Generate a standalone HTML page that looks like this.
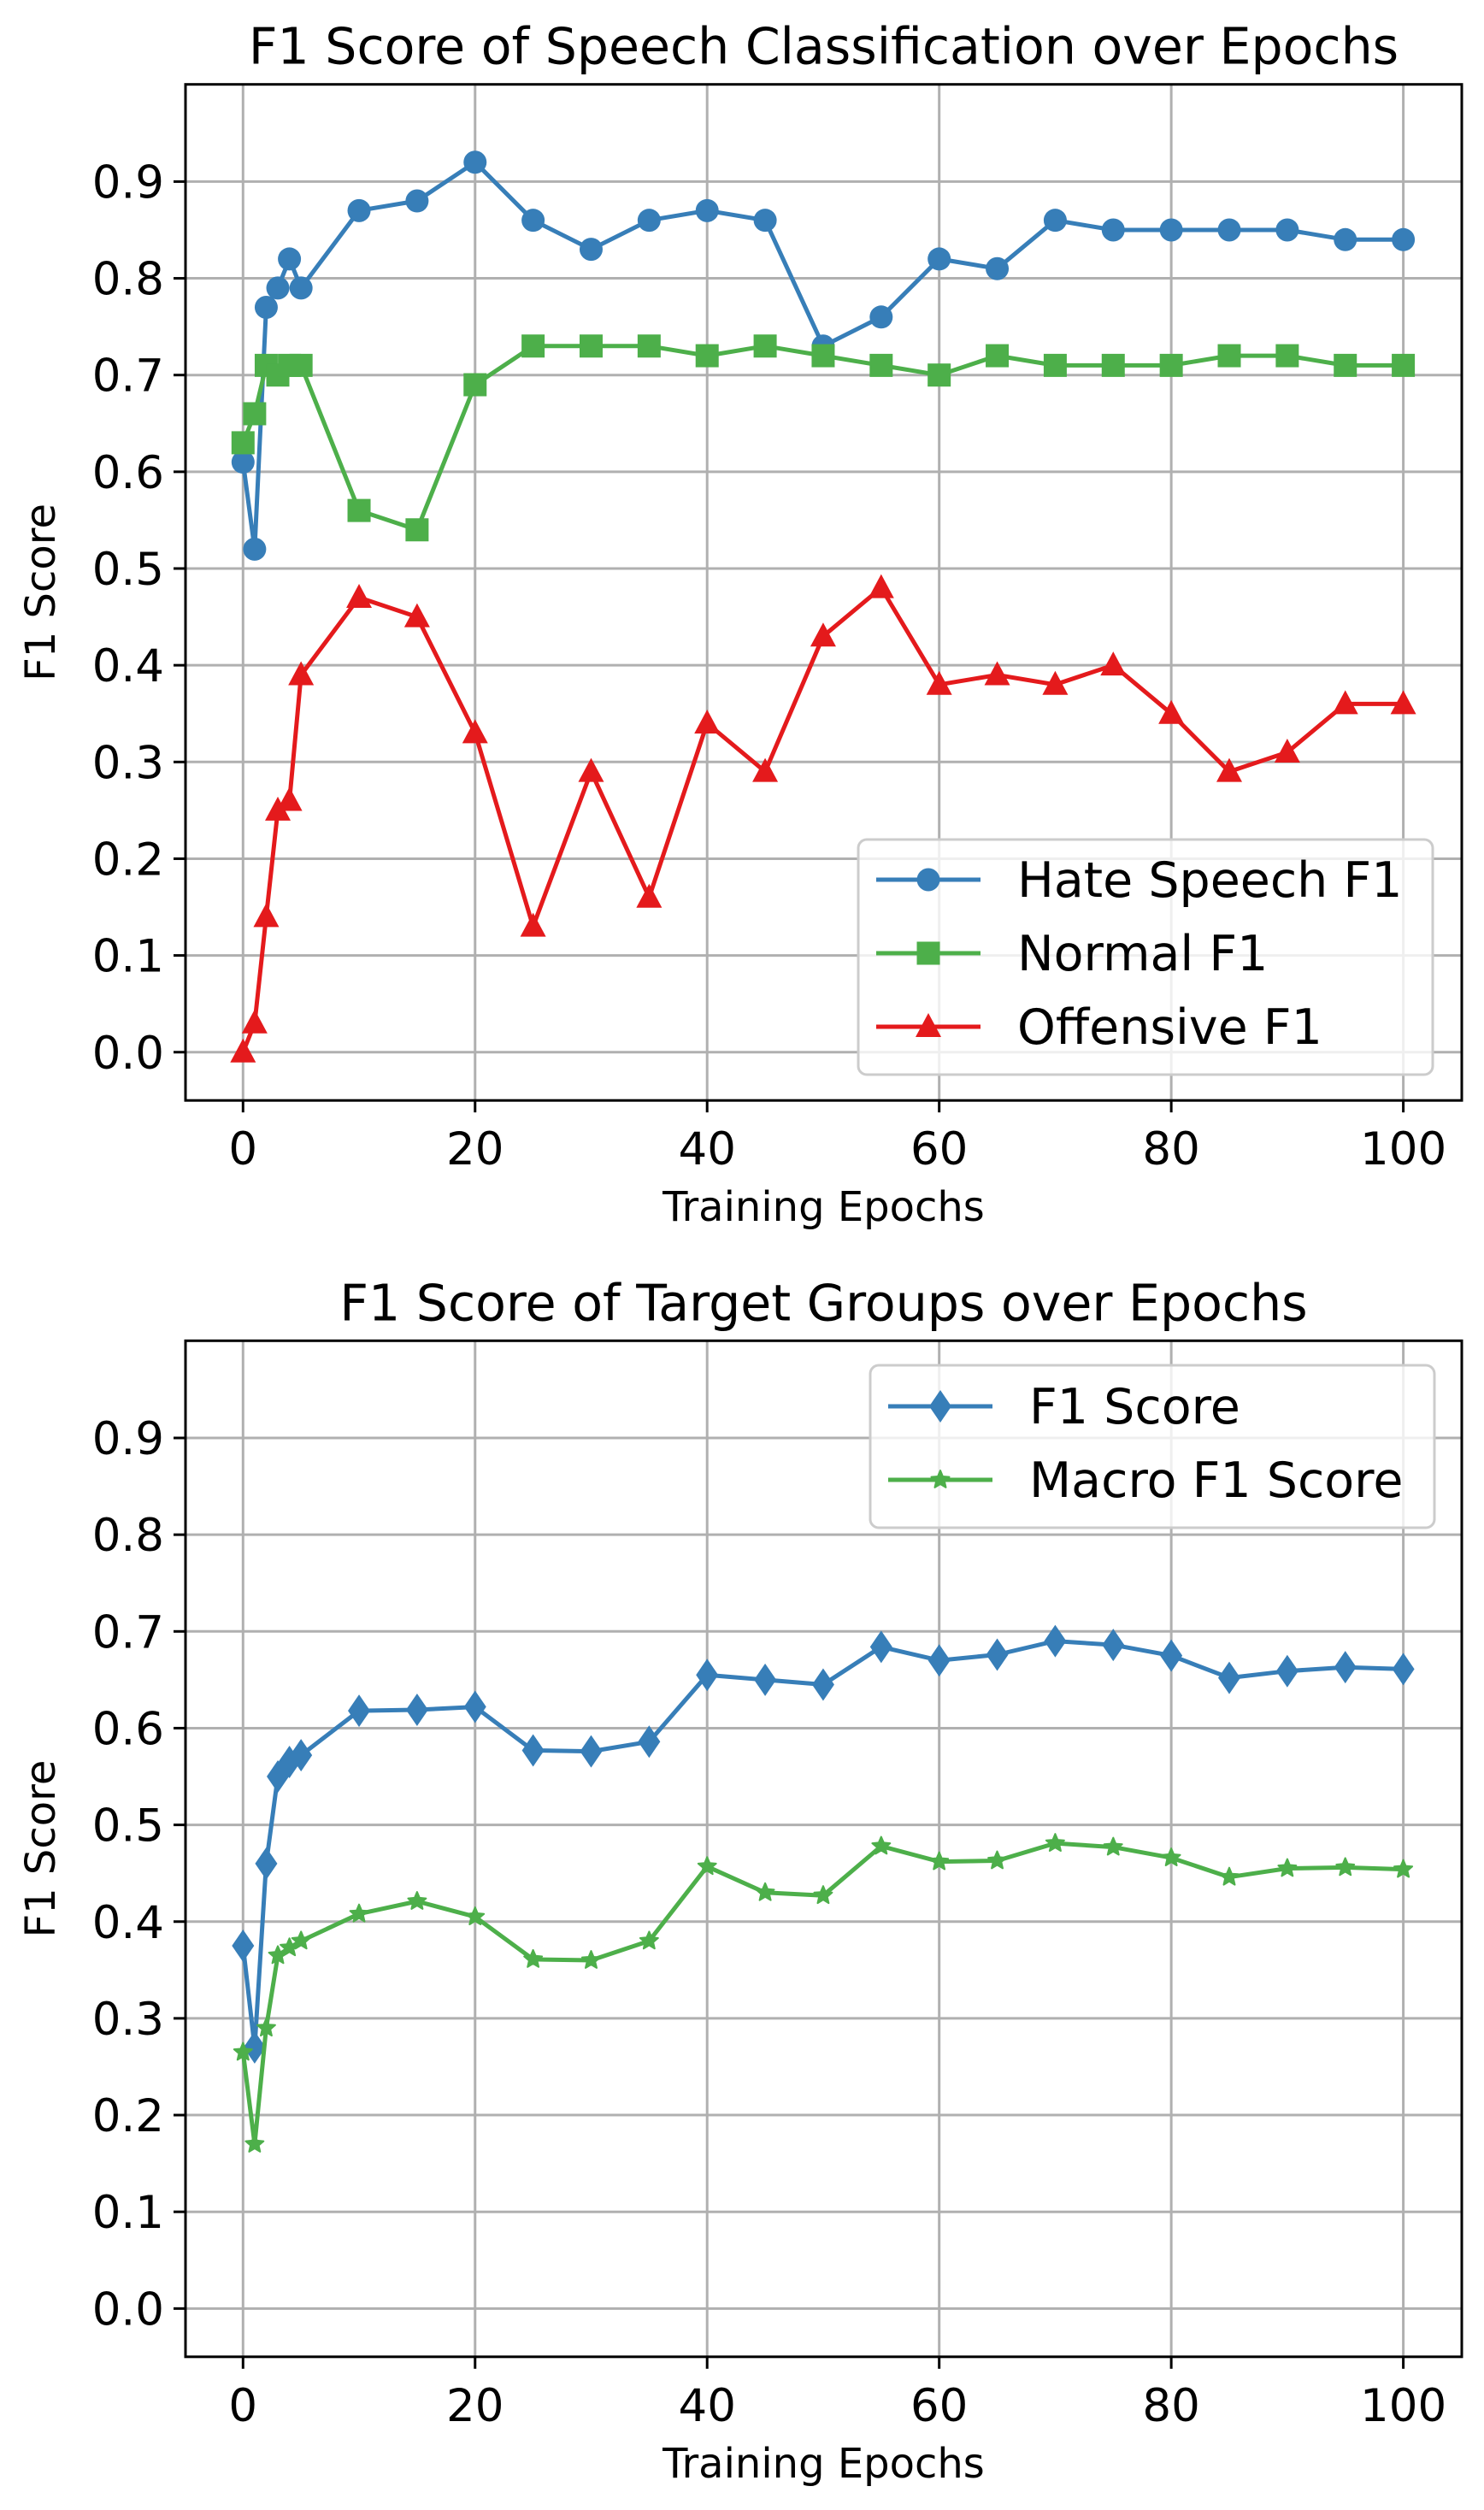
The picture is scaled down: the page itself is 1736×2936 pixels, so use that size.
<!DOCTYPE html>
<html><head><meta charset="utf-8"><style>
html,body{margin:0;padding:0;background:#fff;}
svg{display:block;font-family:"DejaVu Sans","Liberation Sans",sans-serif;}
</style></head><body>
<svg id="fig" width="1736" height="2936" viewBox="0 0 1736 2936" xmlns="http://www.w3.org/2000/svg"></svg>
<script>
const epochs = [0,1,2,3,4,5,10,15,20,25,30,35,40,45,50,55,60,65,70,75,80,85,90,95,100];
const hateF1 = [0.61,0.52,0.77,0.79,0.82,0.79,0.87,0.88,0.92,0.86,0.83,0.86,0.87,0.86,0.73,0.76,0.82,0.81,0.86,0.85,0.85,0.85,0.85,0.84,0.84];
const normalF1 = [0.63,0.66,0.71,0.70,0.71,0.71,0.56,0.54,0.69,0.73,0.73,0.73,0.72,0.73,0.72,0.71,0.70,0.72,0.71,0.71,0.71,0.72,0.72,0.71,0.71];
const offensiveF1 = [0.00,0.03,0.14,0.25,0.26,0.39,0.47,0.45,0.33,0.13,0.29,0.16,0.34,0.29,0.43,0.48,0.38,0.39,0.38,0.40,0.35,0.29,0.31,0.36,0.36];
const targetF1 = [0.375,0.27,0.46,0.55,0.565,0.572,0.618,0.619,0.622,0.577,0.576,0.586,0.655,0.65,0.645,0.684,0.67,0.676,0.69,0.686,0.675,0.652,0.659,0.663,0.661];
const macroF1 = [0.265,0.17,0.29,0.365,0.373,0.38,0.408,0.421,0.405,0.361,0.36,0.38,0.457,0.43,0.427,0.478,0.462,0.463,0.481,0.477,0.466,0.446,0.455,0.456,0.454];
const xTicks = [0,20,40,60,80,100];
const yTicks = [0.0,0.1,0.2,0.3,0.4,0.5,0.6,0.7,0.8,0.9];

const NS='http://www.w3.org/2000/svg';
const fig=document.getElementById('fig');
function mk(tag,attrs,parent){const e=document.createElementNS(NS,tag);for(const k in attrs)e.setAttribute(k,attrs[k]);(parent||fig).appendChild(e);return e;}

function marker(g,type,cx,cy,color){
  let e;
  if(type==='circle'){e=mk('circle',{cx:cx,cy:cy,r:13.5,fill:color},g);}
  else if(type==='square'){e=mk('rect',{x:cx-13.5,y:cy-13.5,width:27,height:27,fill:color},g);}
  else if(type==='triangle'){e=mk('polygon',{points:`${cx},${cy-16} ${cx+15},${cy+12} ${cx-15},${cy+12}`,fill:color},g);}
  else if(type==='diamond'){e=mk('polygon',{points:`${cx},${cy-19} ${cx+13},${cy} ${cx},${cy+19} ${cx-13},${cy}`,fill:color},g);}
  else if(type==='star'){let p=[];for(let i=0;i<10;i++){const r=i%2?5:11;const a=-Math.PI/2+i*Math.PI/5;p.push((cx+r*Math.cos(a)).toFixed(1)+','+(cy+r*Math.sin(a)).toFixed(1));}
    e=mk('polygon',{points:p.join(' '),fill:color,stroke:color,'stroke-width':2,'stroke-linejoin':'round'},g);}
  return e;
}

function chart(cfg){
  const L=217,R=1710,T=cfg.top,B=cfg.top+1188.5;
  const xs=v=>284.3+(v)*13.573;
  const ys=v=>(T+113.7)+(0.9-v)*1131.5;
  const g=mk('g',{});
  
  
  xTicks.forEach(t=>{const l=mk('line',{x1:xs(t),x2:xs(t),y1:T,y2:B,stroke:'#b0b0b0','stroke-width':3},g);
    });
  yTicks.forEach(t=>{const l=mk('line',{x1:L,x2:R,y1:ys(t),y2:ys(t),stroke:'#b0b0b0','stroke-width':3},g);
    });
  cfg.series.forEach(s=>{
    const sg=mk('g',{},g);
    
    
    const pts=epochs.map((x,i)=>xs(x).toFixed(1)+','+ys(s.values[i]).toFixed(1)).join(' ');
    const pl=mk('polyline',{points:pts,fill:'none',stroke:s.color,'stroke-width':5,'stroke-linejoin':'round'},sg);
    
    
    epochs.forEach((x,i)=>{const m=marker(sg,s.marker,xs(x),ys(s.values[i]),s.color);
      
      });
  });
  const sp=mk('rect',{x:L,y:T,width:R-L,height:B-T,fill:'none',stroke:'#000','stroke-width':3},g);
  
  xTicks.forEach(t=>{mk('line',{x1:xs(t),x2:xs(t),y1:B,y2:B+14,stroke:'#000','stroke-width':3},g);
    const tx=mk('text',{x:xs(t),y:B+75,'font-size':53,'text-anchor':'middle',fill:'#000'},g);tx.textContent=t;
    });
  yTicks.forEach(t=>{mk('line',{x1:L-14,x2:L,y1:ys(t),y2:ys(t),stroke:'#000','stroke-width':3},g);
    const tx=mk('text',{x:L-25,y:ys(t)+19,'font-size':53,'text-anchor':'end',fill:'#000'},g);tx.textContent=t.toFixed(1);
    });
  const xl=mk('text',{x:(L+R)/2,y:B+141,'font-size':48,'text-anchor':'middle'},g);xl.textContent='Training Epochs';
  
  const yl=mk('text',{x:0,y:0,'font-size':48,'text-anchor':'middle',transform:`translate(64,${(T+B)/2}) rotate(-90)`},g);yl.textContent='F1 Score';
  
  const ti=mk('text',{x:(L+R)/2,y:T-24,'font-size':58.5,'text-anchor':'middle'},g);ti.textContent=cfg.title;
  
  const lg=mk('g',{},g);
  
  const lb=cfg.legend;
  mk('rect',{x:lb.x,y:lb.y,width:lb.w,height:lb.h,rx:10,fill:'rgba(255,255,255,0.8)',stroke:'#cccccc','stroke-width':3},lg);
  cfg.series.forEach((s,i)=>{
    const cy=lb.y+lb.first+i*86;
    const ent=mk('g',{},lg);
    
    
    mk('line',{x1:lb.x+21,x2:lb.x+143,y1:cy,y2:cy,stroke:s.color,'stroke-width':5},ent);
    marker(ent,s.marker,lb.x+82,cy,s.color);
    const t=mk('text',{x:lb.x+186,y:cy+20,'font-size':57},ent);t.textContent=s.label;
  });
}

chart({name:'speech-classification-chart',top:98.7,title:'F1 Score of Speech Classification over Epochs',
  legend:{x:1004,y:982,w:672,h:275,first:47},
  series:[
    {name:'hate-speech-series',label:'Hate Speech F1',values:hateF1,color:'#377eb8',marker:'circle'},
    {name:'normal-series',label:'Normal F1',values:normalF1,color:'#4daf4a',marker:'square'},
    {name:'offensive-series',label:'Offensive F1',values:offensiveF1,color:'#e41a1c',marker:'triangle'}]});

chart({name:'target-groups-chart',top:1568.3,title:'F1 Score of Target Groups over Epochs',
  legend:{x:1018,y:1597,w:660,h:190,first:48},
  series:[
    {name:'f1-score-series',label:'F1 Score',values:targetF1,color:'#377eb8',marker:'diamond'},
    {name:'macro-f1-series',label:'Macro F1 Score',values:macroF1,color:'#4daf4a',marker:'star'}]});
</script>
</body></html>
